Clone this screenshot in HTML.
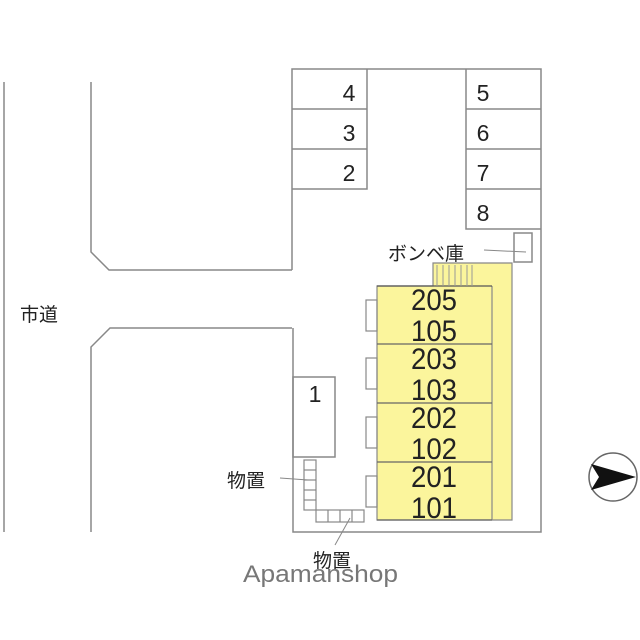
<!DOCTYPE html>
<html><head><meta charset="utf-8"><style>
html,body{margin:0;padding:0;background:#fff;width:640px;height:640px;overflow:hidden}
svg text{font-family:"Liberation Sans","Noto Sans CJK JP",sans-serif;fill:#222}
</style></head><body>
<svg width="640" height="640" viewBox="0 0 640 640" xmlns="http://www.w3.org/2000/svg">
<g fill="none" stroke="#888" stroke-width="1.5">
<line x1="4" y1="82" x2="4" y2="532"/>
<polyline points="91,82 91,252 109,270 292,270"/>
<polyline points="292,328 110,328 91,347 91,532"/>
<polyline points="292,270 292,69 541,69 541,532 293,532 293,328"/>
<polyline points="292,109 367,109"/><polyline points="292,149 367,149"/>
<polyline points="292,189 367,189 367,69"/>
<polyline points="541,229 466,229 466,69"/>
<line x1="466" y1="109" x2="541" y2="109"/><line x1="466" y1="149" x2="541" y2="149"/><line x1="466" y1="189" x2="541" y2="189"/>
<rect x="514" y="233" width="18" height="29"/>
<line x1="484" y1="250" x2="526" y2="252" stroke-width="1"/>
<rect x="293" y="377" width="42" height="80"/>
</g>
<path d="M433,263 H512 V520 H377 V286 H433 Z" fill="#fbf59c" stroke="#888" stroke-width="1.2"/>
<line x1="492" y1="286" x2="492" y2="520" stroke="#888" stroke-width="1.2"/>
<line x1="377" y1="286" x2="492" y2="286" stroke="#555" stroke-width="1.2"/>
<g stroke="#666" stroke-width="1.2">
<line x1="377" y1="344" x2="492" y2="344"/><line x1="377" y1="403" x2="492" y2="403"/><line x1="377" y1="462" x2="492" y2="462"/><line x1="377" y1="520" x2="492" y2="520"/>
</g>
<g stroke="#999" stroke-width="1">
<line x1="437" y1="265" x2="437" y2="286"/><line x1="443" y1="265" x2="443" y2="286"/><line x1="449" y1="265" x2="449" y2="286"/><line x1="455" y1="265" x2="455" y2="286"/><line x1="461" y1="265" x2="461" y2="286"/><line x1="467" y1="265" x2="467" y2="286"/><line x1="472" y1="265" x2="472" y2="286"/>
</g>
<g fill="none" stroke="#888" stroke-width="1.2">
<rect x="366" y="300" width="11" height="31"/><rect x="366" y="358" width="11" height="31"/><rect x="366" y="417" width="11" height="31"/><rect x="366" y="476" width="11" height="31"/>
<rect x="304" y="460" width="12" height="50"/>
<line x1="304" y1="470" x2="316" y2="470"/><line x1="304" y1="480" x2="316" y2="480"/><line x1="304" y1="490" x2="316" y2="490"/><line x1="304" y1="500" x2="316" y2="500"/>
<rect x="316" y="510" width="48" height="12"/>
<line x1="328" y1="510" x2="328" y2="522"/><line x1="340" y1="510" x2="340" y2="522"/><line x1="352" y1="510" x2="352" y2="522"/>
<line x1="280" y1="478" x2="308" y2="480" stroke-width="1"/>
<line x1="350" y1="518" x2="335" y2="545" stroke-width="1"/>
</g>
<g font-size="23" text-anchor="middle">
<text x="349" y="101">4</text><text x="349" y="141">3</text><text x="349" y="181">2</text>
<text x="483" y="101">5</text><text x="483" y="141">6</text><text x="483" y="181">7</text><text x="483" y="221">8</text>
<text x="315" y="402">1</text>
</g>
<g font-size="30" text-anchor="middle">
<text x="434" y="310" textLength="46" lengthAdjust="spacingAndGlyphs">205</text><text x="434" y="341" textLength="46" lengthAdjust="spacingAndGlyphs">105</text>
<text x="434" y="369" textLength="46" lengthAdjust="spacingAndGlyphs">203</text><text x="434" y="400" textLength="46" lengthAdjust="spacingAndGlyphs">103</text>
<text x="434" y="428" textLength="46" lengthAdjust="spacingAndGlyphs">202</text><text x="434" y="459" textLength="46" lengthAdjust="spacingAndGlyphs">102</text>
<text x="434" y="487" textLength="46" lengthAdjust="spacingAndGlyphs">201</text><text x="434" y="518" textLength="46" lengthAdjust="spacingAndGlyphs">101</text>
</g>
<g font-size="19">
<text x="388" y="260">ボンベ庫</text>
<text x="227" y="487">物置</text>
<text x="313" y="567">物置</text>
<text x="20" y="321">市道</text>
</g>
<text x="243" y="582" font-size="24" textLength="155" lengthAdjust="spacingAndGlyphs" style="fill:#777">Apamanshop</text>
<circle cx="613" cy="477" r="24" fill="#fff" stroke="#666" stroke-width="1.5"/>
<path d="M591,464 L636,477 L591,490 L599,477 Z" fill="#111"/>
</svg>
</body></html>
